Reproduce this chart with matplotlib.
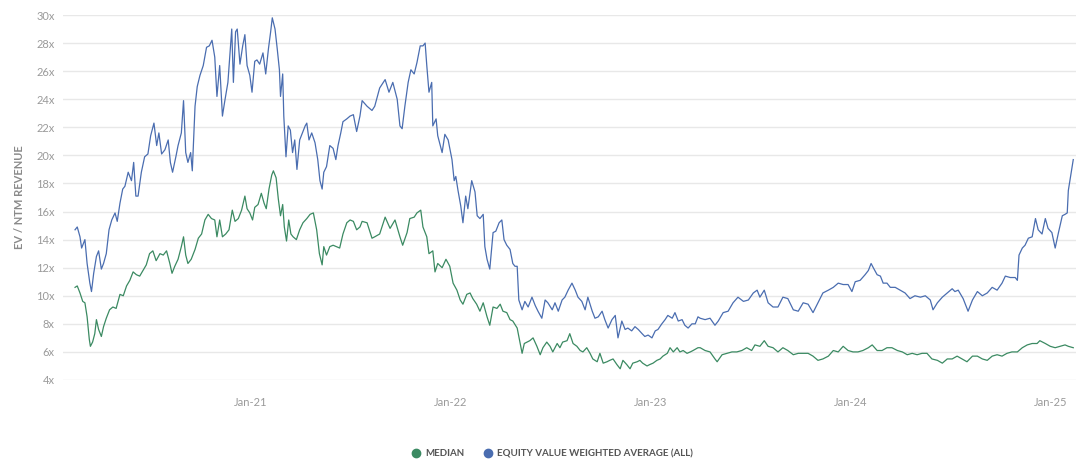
import numpy as np
import pandas as pd
import matplotlib
matplotlib.use("Agg")
import matplotlib.pyplot as plt
import matplotlib.dates as mdates
from matplotlib.lines import Line2D

# dias desde 2021-01-01 y multiplos EV / NTM revenue
base = pd.Timestamp("2021-01-01")

blue_days = [-320, -316, -311, -308, -302, -298, -293, -290, -286, -281, -277, -272, -268, -263, -258,
             -253, -247, -243, -238, -233, -229, -223, -217, -213, -209, -205, -199, -193, -187, -182,
             -176, -171, -167, -162, -156, -150, -146, -142, -136, -132, -126, -122, -118, -114, -109,
             -106, -101, -97, -92, -86, -80, -75, -70, -65, -61, -56, -51, -47, -41, -34,
             -31, -27, -24, -19, -14, -10, -6, -1, 3, 8, 12, 17, 23, 28, 33,
             37, 40, 45, 49, 53, 55, 59, 61, 65, 69, 73, 77, 81, 85, 90,
             95, 100, 103, 107, 112, 118, 123, 127, 131, 134, 139, 145, 151, 156, 160,
             165, 169, 176, 182, 188, 194, 200, 204, 213, 222, 227, 236, 246, 253, 260,
             268, 273, 277, 282, 288, 293, 299, 304, 310, 315, 319, 322, 326, 331, 333,
             339, 342, 350, 355, 361, 368, 372, 375, 379, 384, 388, 393, 397, 404, 410,
             414, 419, 425, 428, 432, 437, 443, 448, 454, 459, 463, 468, 474, 479, 483,
             487, 490, 496, 501, 507, 514, 520, 525, 532, 538, 543, 551, 556, 562, 569,
             574, 580, 587, 593, 598, 605, 611, 616, 624, 629, 635, 642, 647, 653, 660,
             666, 671, 678, 684, 689, 696, 702, 708, 715, 720, 726, 733, 739, 744, 751,
             757, 762, 770, 775, 781, 788, 793, 799, 806, 812, 817, 821, 830, 839, 848,
             854, 863, 872, 881, 890, 900, 909, 918, 925, 930, 938, 945, 954, 963, 972,
             981, 991, 1000, 1009, 1018, 1027, 1036, 1045, 1055, 1064, 1073, 1082, 1091, 1098, 1104,
             1113, 1122, 1128, 1133, 1137, 1144, 1150, 1155, 1162, 1168, 1177, 1186, 1195, 1204, 1213,
             1223, 1232, 1241, 1246, 1254, 1263, 1272, 1281, 1286, 1292, 1301, 1310, 1318, 1327, 1336,
             1345, 1354, 1363, 1372, 1378, 1387, 1396, 1400, 1403, 1409, 1414, 1420, 1427, 1433, 1438,
             1445, 1451, 1456, 1463, 1469, 1475, 1482, 1487, 1491, 1493, 1497, 1500, 1502]
blue_vals = [14.7, 14.9, 14.2, 13.4, 14.0, 12.3, 10.9, 10.3, 11.6, 12.8, 13.2, 11.9, 12.3, 13.0, 14.7,
             15.4, 15.9, 15.3, 16.6, 17.6, 17.8, 18.8, 18.2, 19.5, 17.1, 17.1, 18.8, 19.9, 20.1, 21.4,
             22.3, 20.7, 21.6, 20.1, 20.4, 21.1, 19.5, 18.8, 19.9, 20.7, 21.6, 23.9, 20.2, 19.5, 20.2,
             18.9, 23.5, 24.9, 25.7, 26.4, 27.7, 27.8, 28.2, 27.0, 24.2, 26.4, 22.8, 23.8, 25.2, 29.0,
             25.2, 28.8, 29.0, 26.5, 27.8, 28.6, 26.4, 25.7, 24.5, 26.7, 26.8, 26.5, 27.3, 25.8, 27.6,
             28.8, 29.8, 29.0, 27.6, 26.1, 24.2, 25.8, 22.8, 19.9, 22.1, 21.8, 20.2, 21.1, 19.0, 21.1,
             21.6, 22.1, 22.3, 21.1, 21.6, 20.9, 19.7, 18.2, 17.6, 18.8, 19.2, 20.7, 20.5, 19.7, 20.7,
             21.6, 22.4, 22.6, 22.8, 22.9, 21.7, 22.8, 23.9, 23.5, 23.2, 23.5, 24.8, 25.4, 24.5, 25.2,
             24.0, 22.1, 21.9, 23.5, 25.2, 26.1, 25.8, 26.6, 27.8, 27.8, 28.0, 26.4, 24.5, 25.2, 22.1,
             22.6, 21.4, 20.2, 21.5, 21.1, 19.7, 18.2, 18.5, 17.5, 16.4, 15.2, 17.1, 16.2, 18.2, 17.4,
             15.7, 15.5, 15.8, 13.5, 12.6, 11.9, 14.5, 14.6, 15.2, 15.4, 14.0, 13.6, 13.3, 12.3, 12.1,
             12.1, 9.7, 9.0, 9.6, 9.2, 9.9, 9.3, 8.9, 8.4, 9.7, 9.5, 9.0, 9.5, 8.9, 9.7,
             9.9, 10.4, 10.9, 10.4, 9.9, 9.6, 9.0, 9.9, 8.9, 8.4, 8.5, 8.9, 8.3, 7.7, 8.3,
             8.6, 7.0, 8.2, 7.6, 7.7, 7.5, 7.8, 7.6, 7.3, 7.1, 7.2, 7.0, 7.5, 7.6, 8.0,
             8.3, 8.6, 8.4, 8.8, 8.2, 8.3, 7.9, 7.7, 8.0, 8.0, 8.5, 8.4, 8.3, 8.4, 7.9,
             8.2, 8.8, 8.9, 9.5, 9.9, 9.6, 9.7, 10.2, 10.4, 9.9, 10.4, 9.5, 9.2, 9.2, 9.9,
             9.8, 9.0, 8.9, 9.5, 9.4, 8.8, 9.5, 10.2, 10.4, 10.6, 10.9, 10.8, 10.8, 10.3, 11.0,
             11.1, 11.5, 11.8, 12.3, 12.0, 11.5, 11.4, 10.9, 10.9, 10.6, 10.6, 10.4, 10.2, 9.8, 10.0,
             9.9, 10.0, 9.7, 9.0, 9.5, 9.9, 10.2, 10.5, 10.3, 10.4, 9.8, 8.9, 9.7, 10.3, 10.0,
             10.2, 10.6, 10.4, 10.9, 11.4, 11.3, 11.3, 11.1, 12.9, 13.4, 13.6, 14.1, 14.2, 15.5, 14.7,
             14.4, 15.5, 14.8, 14.5, 13.4, 14.5, 15.7, 15.8, 15.9, 17.5, 18.5, 19.2, 19.7]

green_days = [-320, -316, -311, -306, -302, -298, -294, -292, -288, -284, -281, -277, -272, -268, -263,
              -257, -251, -245, -238, -232, -226, -220, -214, -208, -202, -196, -190, -184, -178, -172,
              -165, -159, -153, -147, -143, -138, -132, -126, -122, -118, -114, -108, -101, -95, -89,
              -83, -77, -71, -65, -61, -56, -51, -45, -39, -33, -28, -22, -16, -10, -6,
              -1, 4, 8, 14, 20, 25, 29, 34, 39, 42, 47, 51, 55, 59, 62,
              66, 70, 74, 78, 84, 90, 96, 103, 109, 115, 121, 126, 131, 134, 139,
              145, 151, 157, 163, 169, 176, 182, 188, 194, 200, 204, 213, 222, 227, 236,
              246, 255, 264, 273, 278, 286, 291, 299, 304, 311, 315, 322, 326, 333, 337,
              342, 350, 357, 364, 370, 377, 383, 388, 395, 401, 406, 413, 419, 425, 432,
              437, 443, 450, 456, 461, 468, 474, 479, 487, 490, 496, 500, 505, 510, 516,
              523, 529, 534, 541, 547, 552, 560, 565, 570, 578, 583, 589, 596, 602, 607,
              614, 620, 625, 633, 638, 644, 651, 656, 662, 669, 675, 680, 687, 693, 698,
              706, 711, 716, 724, 729, 735, 742, 748, 753, 761, 766, 772, 779, 784, 790,
              797, 803, 808, 817, 821, 830, 839, 848, 852, 861, 870, 879, 888, 897, 906,
              915, 921, 930, 938, 945, 954, 963, 972, 981, 991, 1000, 1009, 1018, 1027, 1036,
              1045, 1055, 1064, 1073, 1082, 1091, 1100, 1109, 1118, 1128, 1135, 1144, 1153, 1162, 1171,
              1181, 1190, 1199, 1208, 1217, 1226, 1235, 1244, 1254, 1263, 1272, 1281, 1290, 1299, 1308,
              1318, 1327, 1336, 1345, 1354, 1363, 1372, 1381, 1390, 1400, 1409, 1418, 1427, 1436, 1441,
              1451, 1460, 1469, 1478, 1487, 1493, 1502]
green_vals = [10.6, 10.7, 10.2, 9.6, 9.5, 8.5, 6.9, 6.4, 6.7, 7.3, 8.3, 7.6, 7.1, 7.8, 8.4,
              9.0, 9.2, 9.1, 10.1, 10.0, 10.7, 11.1, 11.7, 11.5, 11.4, 11.8, 12.2, 13.0, 13.2, 12.5,
              13.0, 12.9, 13.2, 12.3, 11.6, 12.1, 12.6, 13.5, 14.2, 12.9, 12.3, 12.6, 13.3, 14.1, 14.4,
              15.4, 15.8, 15.5, 15.4, 14.2, 15.4, 14.2, 14.4, 14.7, 16.1, 15.3, 15.5, 16.1, 17.1, 16.2,
              15.9, 15.4, 16.3, 16.5, 17.3, 16.6, 16.2, 17.6, 18.6, 18.9, 18.4, 16.9, 15.7, 16.5, 14.9,
              13.9, 15.4, 14.4, 14.2, 14.0, 14.7, 15.2, 15.5, 15.8, 15.9, 14.7, 13.0, 12.2, 13.5, 12.9,
              13.5, 13.6, 13.5, 13.4, 14.4, 15.2, 15.4, 15.3, 14.7, 14.9, 15.3, 15.2, 14.1, 14.2, 14.4,
              15.6, 14.8, 15.4, 14.2, 13.6, 14.5, 15.5, 15.6, 15.9, 16.1, 14.9, 14.2, 13.0, 13.2, 11.7,
              12.3, 12.0, 12.6, 12.1, 10.9, 10.4, 9.7, 9.4, 10.1, 10.2, 9.8, 9.4, 8.9, 9.5, 8.5,
              7.9, 9.2, 9.1, 9.4, 8.9, 8.8, 8.3, 8.2, 7.7, 7.1, 5.9, 6.6, 6.7, 6.8, 7.0,
              6.4, 5.8, 6.3, 6.7, 6.4, 6.0, 6.6, 6.3, 6.7, 6.8, 7.3, 6.6, 6.4, 6.1, 6.0,
              6.3, 5.9, 5.5, 5.3, 5.9, 5.2, 5.3, 5.4, 5.5, 5.1, 4.8, 5.4, 5.1, 4.8, 5.2,
              5.3, 5.4, 5.2, 5.0, 5.1, 5.2, 5.4, 5.5, 5.7, 5.9, 6.3, 6.0, 6.3, 6.0, 6.1,
              5.9, 6.0, 6.1, 6.3, 6.3, 6.1, 6.0, 5.5, 5.3, 5.8, 5.9, 6.0, 6.0, 6.1, 6.3,
              6.1, 6.5, 6.4, 6.8, 6.4, 6.3, 6.0, 6.3, 6.1, 5.8, 5.9, 5.9, 5.9, 5.7, 5.4,
              5.5, 5.7, 6.1, 6.0, 6.4, 6.1, 6.0, 6.0, 6.1, 6.3, 6.5, 6.1, 6.1, 6.3, 6.3,
              6.1, 6.0, 5.8, 5.9, 5.8, 5.9, 5.9, 5.5, 5.4, 5.2, 5.5, 5.5, 5.7, 5.5, 5.3,
              5.7, 5.7, 5.5, 5.4, 5.7, 5.8, 5.7, 5.9, 6.0, 6.0, 6.3, 6.5, 6.6, 6.6, 6.8,
              6.6, 6.4, 6.3, 6.4, 6.5, 6.4, 6.3]

year_ticks = ["2021-01-01", "2022-01-01", "2023-01-01", "2024-01-01", "2025-01-01"]
y_ticks = list(range(4, 31, 2))

blue_dates = base + pd.to_timedelta(blue_days, unit="D")
green_dates = base + pd.to_timedelta(green_days, unit="D")

c_blue = "#4a6db0"
c_green = "#3b8a62"
c_tick = "#9a9a9a"

plt.rcParams["font.family"] = ["Lato", "DejaVu Sans"]

fig = plt.figure(figsize=(10.76, 4.67), dpi=100)
ax = fig.add_axes([63 / 1076, 87 / 467, 1 - 63 / 1076, 365 / 467])

ax.plot(green_dates, green_vals, color=c_green, lw=0.9)
ax.plot(blue_dates, blue_vals, color=c_blue, lw=0.9)

ax.set_ylim(4, 30)
ax.set_xlim(base + pd.Timedelta(days=-342), base + pd.Timedelta(days=1507))
ax.set_yticks(y_ticks)
ax.set_yticklabels([f"{v}x" for v in y_ticks])
ax.set_xticks(pd.to_datetime(year_ticks))
ax.xaxis.set_major_formatter(mdates.DateFormatter("%b-%y"))
ax.grid(axis="y", color="#e8e8e8", lw=1)
ax.set_axisbelow(True)
for s in ax.spines.values():
    s.set_visible(False)
ax.tick_params(axis="both", length=0, labelsize=8, colors=c_tick)
ax.tick_params(axis="y", pad=6)
ax.tick_params(axis="x", pad=12)
ax.set_ylabel("EV / NTM REVENUE", fontsize=8, fontweight="bold", color="#8a8a8a", labelpad=8)

handles = [Line2D([], [], marker="o", ls="none", color=c_green, markersize=6),
           Line2D([], [], marker="o", ls="none", color=c_blue, markersize=6)]
leg = fig.legend(handles, ["MEDIAN", "EQUITY VALUE WEIGHTED AVERAGE (ALL)"], loc="center",
                 bbox_to_anchor=(0.513, 0.028), ncol=2, frameon=False, fontsize=7,
                 handletextpad=0.4, columnspacing=2.0, handlelength=1.0)
for t in leg.get_texts():
    t.set_color("#555555")
    t.set_fontweight("bold")

fig.savefig("out.png", dpi=100)
